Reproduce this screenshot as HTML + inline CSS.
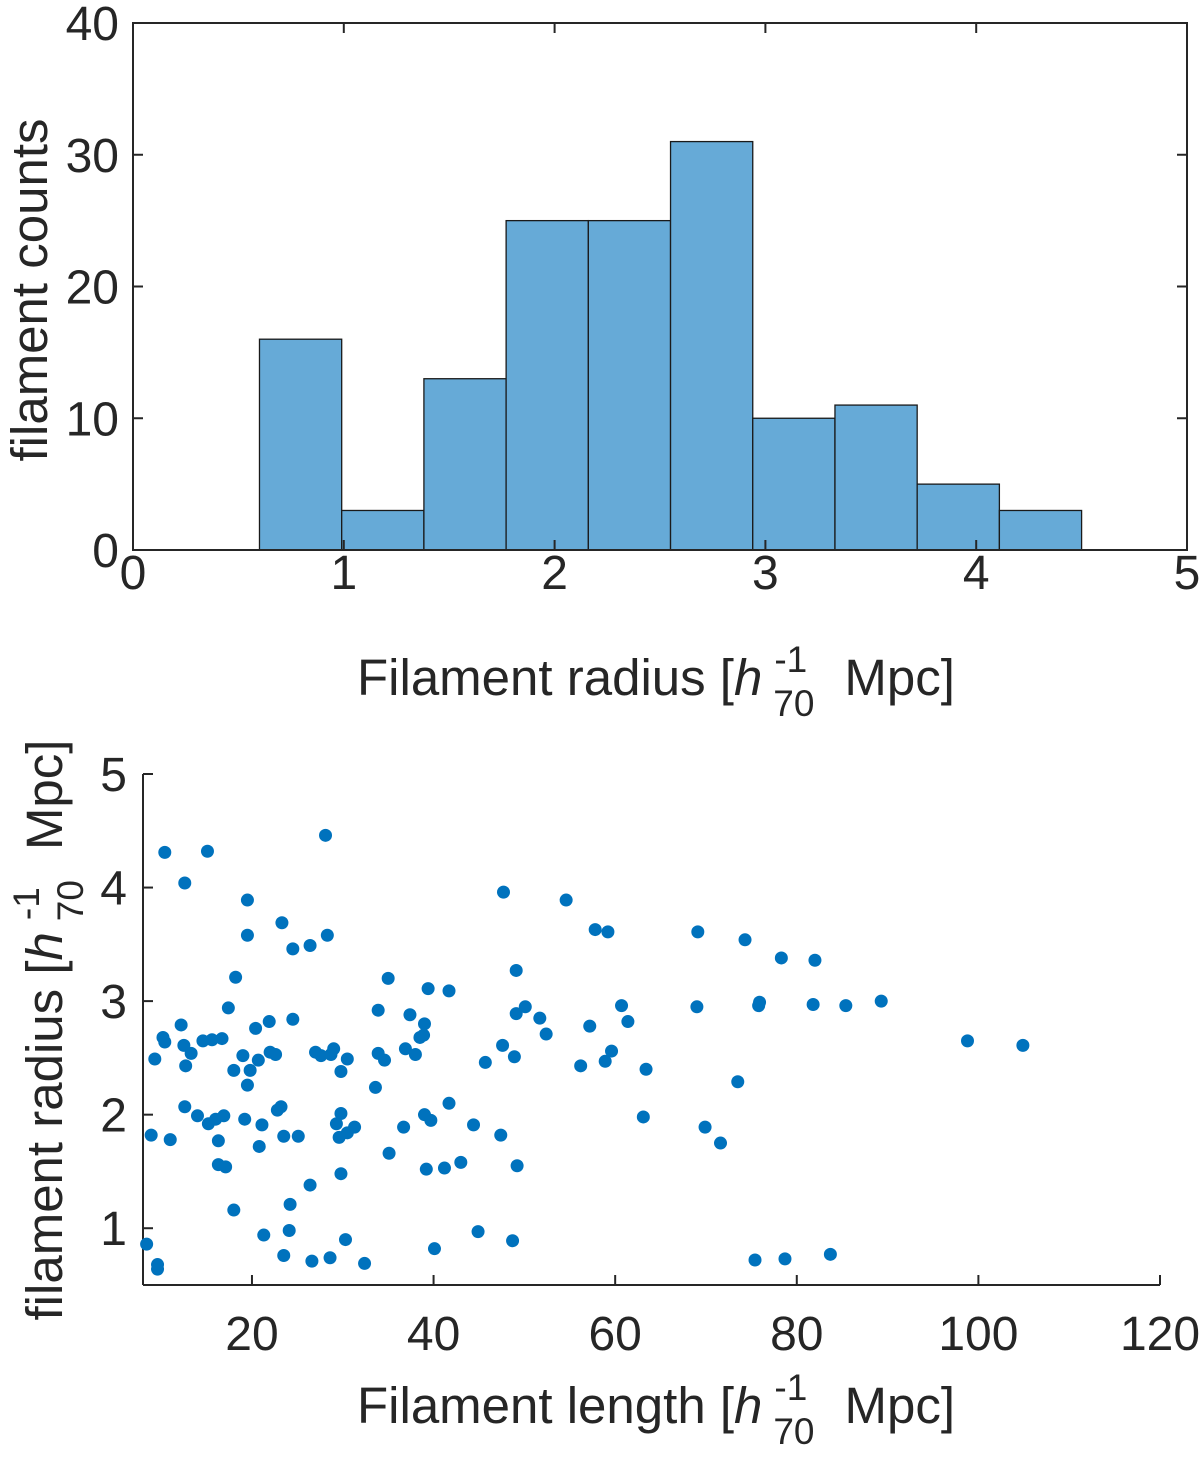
<!DOCTYPE html>
<html><head><meta charset="utf-8"><style>
body{margin:0;background:#fff}
svg{display:block;font-family:"Liberation Sans",sans-serif;fill:#262626}
</style></head><body>
<svg id="fig" width="1200" height="1459" viewBox="0 0 1200 1459" xmlns="http://www.w3.org/2000/svg">
<g id="topPanel"></g>
<g id="botPanel"></g>
</svg>
<script>
const binEdges=[0.6,0.99,1.38,1.77,2.16,2.55,2.94,3.33,3.72,4.11,4.5];
const binCounts=[16,3,13,25,25,31,10,11,5,3];
const histXTicks=[0,1,2,3,4,5];
const histYTicks=[0,10,20,30,40];
const lengths=[8.4,9.6,9.6,8.9,9.3,10.2,10.4,10.4,11.0,12.2,12.6,12.5,12.6,12.7,13.3,14.0,14.6,15.1,15.2,15.6,16.0,16.3,16.3,16.7,17.1,16.9,17.4,18.2,18.0,18.0,19.0,19.2,19.5,19.5,19.5,19.8,20.4,20.7,20.8,21.1,21.3,21.9,22.0,22.6,22.8,23.2,23.3,23.5,23.5,24.1,24.2,24.5,24.5,25.1,26.4,26.4,26.6,27.0,27.6,28.1,28.3,28.6,28.7,29.0,29.3,29.6,29.8,29.8,29.8,30.3,30.5,30.5,31.3,32.4,33.6,33.9,33.9,34.6,35.0,35.1,36.7,36.9,37.4,38.0,38.5,38.9,39.0,39.0,39.2,39.4,39.7,40.1,41.2,41.7,41.7,43.0,44.4,44.9,45.7,47.4,47.6,47.7,48.7,48.9,49.1,49.1,49.2,50.1,51.7,52.4,54.6,56.2,57.2,57.8,58.9,59.2,59.6,60.7,61.4,63.1,63.4,69.1,69.0,69.9,71.6,73.5,74.3,75.4,75.8,75.9,78.3,78.7,81.8,82.0,83.7,85.4,89.3,98.8,104.9];
const radii=[0.86,0.68,0.64,1.82,2.49,2.68,2.64,4.31,1.78,2.79,4.04,2.61,2.07,2.43,2.54,1.99,2.65,4.32,1.92,2.66,1.96,1.77,1.56,2.67,1.54,1.99,2.94,3.21,2.39,1.16,2.52,1.96,3.89,3.58,2.26,2.39,2.76,2.48,1.72,1.91,0.94,2.82,2.55,2.53,2.04,2.07,3.69,0.76,1.81,0.98,1.21,2.84,3.46,1.81,1.38,3.49,0.71,2.55,2.52,4.46,3.58,0.74,2.53,2.58,1.92,1.80,2.01,2.38,1.48,0.90,2.49,1.84,1.89,0.69,2.24,2.92,2.54,2.48,3.20,1.66,1.89,2.58,2.88,2.53,2.68,2.70,2.80,2.00,1.52,3.11,1.95,0.82,1.53,3.09,2.10,1.58,1.91,0.97,2.46,1.82,2.61,3.96,0.89,2.51,3.27,2.89,1.55,2.95,2.85,2.71,3.89,2.43,2.78,3.63,2.47,3.61,2.56,2.96,2.82,1.98,2.40,3.61,2.95,1.89,1.75,2.29,3.54,0.72,2.96,2.99,3.38,0.73,2.97,3.36,0.77,2.96,3.00,2.65,2.61];
const scXTicks=[20,40,60,80,100,120];
const scYTicks=[1,2,3,4,5];

const NS="http://www.w3.org/2000/svg";
function mk(parent,tag,attrs,text){const e=document.createElementNS(NS,tag);for(const k in attrs)e.setAttribute(k,attrs[k]);if(text!==undefined)e.textContent=text;parent.appendChild(e);return e;}
const AX='#262626';
const TF=48, LF=51, SF=37;
const unitMarkup='<tspan font-style="italic">h</tspan><tspan font-size="'+SF+'" dy="-23" dx="12">-1</tspan><tspan font-size="'+SF+'" dx="-34" dy="44">70</tspan><tspan dy="-21" dx="30">Mpc]</tspan>';

// ---- top histogram ----
const topG=document.getElementById('topPanel');
const L1=133,R1=1187,T1=23,B1=550;
const hx=v=>L1+(v-0)/(5-0)*(R1-L1);
const hy=v=>B1-(v-0)/(40-0)*(B1-T1);
for(let i=0;i<binCounts.length;i++){
  const r=mk(topG,'rect',{x:hx(binEdges[i]),y:hy(binCounts[i]),width:hx(binEdges[i+1])-hx(binEdges[i]),height:B1-hy(binCounts[i]),fill:'#66AAD7',stroke:'#1a1a1a','stroke-width':1.3});
  
  
}
const box=mk(topG,'rect',{x:L1,y:T1,width:R1-L1,height:B1-T1,fill:'none',stroke:AX,'stroke-width':2});


histXTicks.forEach(v=>{const x=hx(v);
  mk(topG,'line',{x1:x,y1:B1,x2:x,y2:B1-10,stroke:AX,'stroke-width':2});
  mk(topG,'line',{x1:x,y1:T1,x2:x,y2:T1+10,stroke:AX,'stroke-width':2});
  const t=mk(topG,'text',{x:x,y:B1+39,'text-anchor':'middle','font-size':TF},v);
  
  
});
histYTicks.forEach(v=>{const y=hy(v);
  mk(topG,'line',{x1:L1,y1:y,x2:L1+10,y2:y,stroke:AX,'stroke-width':2});
  mk(topG,'line',{x1:R1,y1:y,x2:R1-10,y2:y,stroke:AX,'stroke-width':2});
  const t=mk(topG,'text',{x:L1-14,y:y+17,'text-anchor':'end','font-size':TF},v);
  
  
});
const yl1=mk(topG,'text',{x:0,y:0,transform:'translate(47,290) rotate(-90)','text-anchor':'middle','font-size':LF},'filament counts');


const xl1=mk(topG,'text',{x:357,y:695,'font-size':LF});


xl1.innerHTML='Filament radius ['+unitMarkup;

// ---- bottom scatter ----
const botG=document.getElementById('botPanel');
const L2=143,R2=1160,T2=774,B2=1285;
const sx=v=>L2+(v-8)/(120-8)*(R2-L2);
const sy=v=>B2-(v-0.5)/(5-0.5)*(B2-T2);
mk(botG,'line',{x1:L2,y1:T2,x2:L2,y2:B2,stroke:AX,'stroke-width':2});
mk(botG,'line',{x1:L2,y1:B2,x2:R2,y2:B2,stroke:AX,'stroke-width':2});
scXTicks.forEach(v=>{const x=sx(v);
  mk(botG,'line',{x1:x,y1:B2,x2:x,y2:B2-10,stroke:AX,'stroke-width':2});
  const t=mk(botG,'text',{x:x,y:B2+65,'text-anchor':'middle','font-size':TF},v);
  
  
});
scYTicks.forEach(v=>{const y=sy(v);
  mk(botG,'line',{x1:L2,y1:y,x2:L2+10,y2:y,stroke:AX,'stroke-width':2});
  const t=mk(botG,'text',{x:L2-16,y:y+17,'text-anchor':'end','font-size':TF},v);
  
  
});
for(let i=0;i<lengths.length;i++){
  const c=mk(botG,'circle',{cx:sx(lengths[i]),cy:sy(radii[i]),r:6.5,fill:'#0072BD'});
  
  
}
const yl2=mk(botG,'text',{x:0,y:0,transform:'translate(62,1030) rotate(-90)','text-anchor':'middle','font-size':LF});


yl2.innerHTML='filament radius ['+unitMarkup;
const xl2=mk(botG,'text',{x:357,y:1423,'font-size':LF});


xl2.innerHTML='Filament length ['+unitMarkup;
</script>
</body></html>
